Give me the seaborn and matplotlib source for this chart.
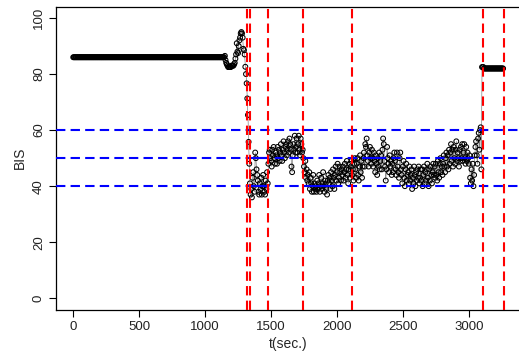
import numpy as np
import pandas as pd
import matplotlib
matplotlib.use("Agg")
import matplotlib.pyplot as plt
import seaborn as sns

# ---- data ----
t_step = 5
bis_flat = [86] * 230  # 0 .. 1145 s
bis_induction = [86.5, 85, 84, 83.5, 83, 82.5, 82.5, 82.5, 82.5, 82.5,
                 83, 83, 83, 83, 83.5, 84, 85.5, 87, 91, 88,
                 87.5, 90, 92, 93, 94.5, 95, 94.5, 93, 89, 88.5,
                 87, 82.6, 80, 76.7, 71.3, 65.4, 55.8, 48]
bis_maint = [
    41, 37, 39, 36, 43, 45, 40, 38, 52, 50, 46, 44, 42, 38, 37, 41, 39, 43, 37, 40,
    44, 40, 38, 37, 42, 39, 45, 41, 48, 52, 53, 50, 49, 47, 53, 51, 54, 50, 48, 52,
    51, 48, 54, 50, 53, 49, 52, 55, 51, 49, 53, 56, 52, 50, 54, 55, 51, 53, 56, 52,
    57, 55, 53, 47, 45, 51, 55, 53, 58, 52, 54, 57, 52, 55, 58, 53, 51, 57, 55, 52,
    53, 50, 47, 45, 49, 43, 46, 42, 44, 41, 45, 39, 43, 41, 38, 40, 44, 38, 41, 39,
    40, 38, 42, 39, 41, 44, 38, 40, 43, 39, 41, 45, 40, 38, 42, 41, 39, 37, 42, 44,
    41, 43, 39, 45, 42, 40, 46, 43, 39, 44, 47, 42, 45, 48, 41, 43, 47, 45, 42, 46,
    44, 47, 42, 45, 48, 43, 46, 49, 44, 41, 46, 48, 43, 47, 49, 44, 46, 42, 48, 50,
    46, 43, 48, 50, 44, 42, 47, 51, 45, 49, 43, 47, 50, 52, 47, 55, 54, 57, 51, 49,
    47, 52, 54, 50, 48, 53, 50, 47, 52, 49, 45, 51, 48, 44, 50, 47, 52, 46, 49, 51,
    46, 53, 57, 55, 49, 47, 42, 46, 54, 50, 48, 45, 51, 47, 49, 44, 48, 45, 50, 52,
    49, 46, 44, 52, 47, 45, 43, 50, 52, 46, 44, 41, 47, 49, 43, 40, 46, 48, 42, 44,
    45, 41, 47, 42, 44, 46, 39, 43, 41, 47, 44, 40, 45, 42, 46, 43, 47, 41, 43, 46,
    42, 46, 40, 44, 47, 41, 45, 42, 46, 48, 43, 40, 46, 42, 47, 44, 41, 45, 48, 44,
    47, 43, 48, 44, 42, 49, 45, 43, 48, 50, 45, 47, 44, 48, 51, 47, 45, 50, 52, 47,
    51, 46, 53, 48, 52, 55, 49, 53, 47, 54, 50, 48, 53, 56, 49, 52, 50, 47, 53, 49,
    54, 50, 55, 49, 52, 55, 50, 48, 54, 49, 52, 50, 48, 51, 43, 41, 46, 42, 48, 40,
    44, 51, 54, 56, 51, 48, 57, 59, 53, 60, 61, 46]
bis_end = [82.5, 82.5, 82.5] + [82] * 30

bis = bis_flat + bis_induction + bis_maint + bis_end
t = np.arange(len(bis)) * t_step
df = pd.DataFrame({"t": t, "BIS": bis})

event_times = [1315, 1337, 1480, 1745, 2117, 3105, 3265]
ref_levels = [40, 50, 60]
target_start = [1360, 1360, 1815, 2230, 2870]
target_end = [1460, 1470, 1990, 2330, 3010]
target_level = [40, 50, 40, 50, 50]

# ---- plot ----
sns.set_style("ticks")
plt.rcParams["font.family"] = ["Liberation Sans", "DejaVu Sans"]

fig = plt.figure(figsize=(5.19, 3.51), dpi=100)
ax = fig.add_axes([56 / 519, 41.5 / 351, 465 / 519, 302.7 / 351])

sns.lineplot(data=df, x="t", y="BIS", ax=ax, color="#666666", lw=0.4,
             estimator=None, sort=False, zorder=2)
sns.scatterplot(data=df, x="t", y="BIS", ax=ax, marker="o", s=12,
                facecolors="none", edgecolor="black", linewidth=0.75, zorder=3)

for lv in ref_levels:
    ax.axhline(lv, color="#0000ff", lw=1.5, ls=(0, (4.5, 2.5)), zorder=4)
for s, e, lv in zip(target_start, target_end, target_level):
    ax.plot([s, e], [lv, lv], color="#0000ff", lw=1.5, zorder=4)
for x in event_times:
    ax.axvline(x, color="#ff0000", lw=1.5, ls=(0, (4.5, 2.5)), zorder=5)

ax.set_xlim(-130.6, 3395.6)
ax.set_ylim(-4, 104)
ax.set_xticks([0, 500, 1000, 1500, 2000, 2500, 3000])
ax.set_yticks([0, 20, 40, 60, 80, 100])
ax.set_xlabel("t(sec.)", fontsize=10, labelpad=3)
ax.set_ylabel("BIS", fontsize=10, labelpad=4)
ax.tick_params(axis="both", labelsize=9.5, length=5, width=0.8, direction="out",
               color="black", labelcolor="#222222")
ax.tick_params(axis="x", pad=3)
ax.tick_params(axis="y", pad=3)
for lab in ax.get_yticklabels():
    lab.set_rotation(90)
    lab.set_va("center")
for sp in ax.spines.values():
    sp.set_visible(True)
    sp.set_color("black")
    sp.set_linewidth(0.9)
ax.grid(False)

fig.savefig("out.png", dpi=100)
